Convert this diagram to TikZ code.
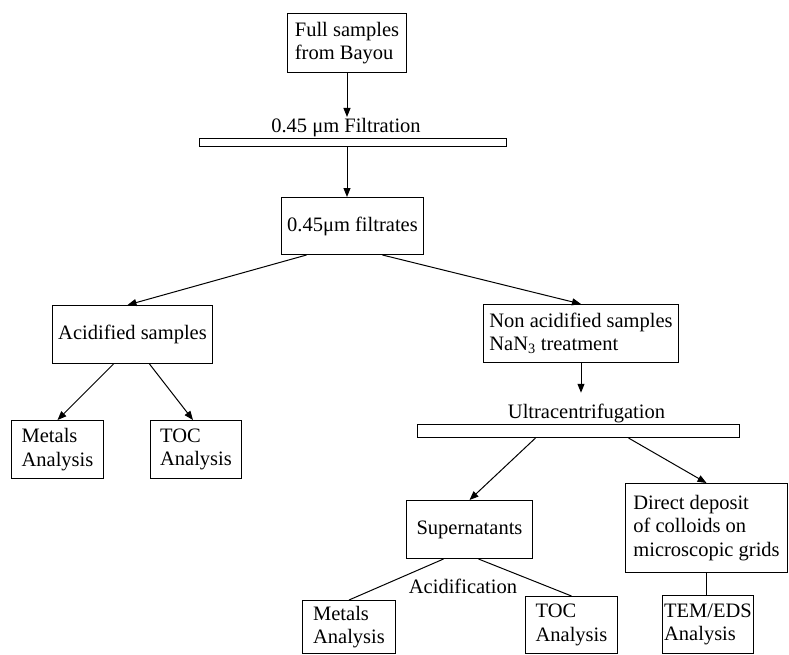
\documentclass[tikz,border=0pt]{standalone}
\usepackage{fontspec}
\setmainfont{Liberation Serif}
\usetikzlibrary{arrows.meta}

\begin{document}
\begin{tikzpicture}[x=1pt, y=-1pt,
    every node/.style={font=\fontsize{20.5}{23.5}\selectfont},
    box/.style={draw, line width=1pt, align=left, anchor=north west, inner sep=0pt},
    bar/.style={draw, line width=1pt, anchor=north west, inner sep=0pt},
    lbl/.style={inner sep=1pt, anchor=south},
    arr/.style={line width=1pt, -{Triangle[length=9pt, width=7pt]}},
    lin/.style={line width=1pt}]
  %tikz  Filtrazione e ultracentrifugazione
    \useasboundingbox (0,0) rectangle (789,654);
    \node[box, minimum width=119pt, minimum height=59pt] (full) at (287,13) {Full samples\\from Bayou};
    \node[bar, minimum width=307pt, minimum height=8pt] (filtbar) at (199,138) {};
    \node[lbl] (filtlbl) at ([xshift=-7pt]filtbar.north) {0.45 μm Filtration};
    \node[box, minimum width=142pt, minimum height=57pt] (filtrate) at (281,197) {0.45μm filtrates};
    \node[box, minimum width=160pt, minimum height=58pt] (acid) at (52,305) {Acidified samples};
    \node[box, minimum width=92pt, minimum height=58pt] (metalsA) at (11,420) {Metals\\Analysis};
    \node[box, minimum width=91pt, minimum height=58pt] (tocA) at (150,420) {TOC\\Analysis};
    \node[box, minimum width=195pt, minimum height=58pt] (nonacid) at (483,304) {Non acidified samples\\NaN\textsubscript{3} treatment};
    \node[bar, minimum width=322pt, minimum height=13pt] (ultrabar) at (417,424) {};
    \node[lbl] (ultralbl) at ([xshift=8pt]ultrabar.north) {Ultracentrifugation};
    \node[box, minimum width=126pt, minimum height=58pt] (super) at (406,500) {Supernatants};
    \node[box, minimum width=162pt, minimum height=89pt] (direct) at (625,483) {Direct deposit\\of colloids on\\microscopic grids};
    \node[box, minimum width=93pt, minimum height=53pt] (metalsB) at (302,600) {Metals\\Analysis};
    \node[box, minimum width=92pt, minimum height=57pt] (tocB) at (525,596) {TOC\\Analysis};
    \node[box, minimum width=91pt, minimum height=58pt] (tem) at (662,595) {TEM/EDS\\Analysis};
    \node (acidif) at (463,586) {Acidification};

    \draw[arr] (full.south) -- (full.south |- filtlbl.north);
    \draw[arr] (filtbar.south -| full.south) -- (full.south |- filtrate.north);
    \draw[arr] ([xshift=-46pt]filtrate.south) -- ([xshift=-5pt]acid.north);
    \draw[arr] ([xshift=30pt]filtrate.south) -- (nonacid.north);
    \draw[arr] ([xshift=-19pt]acid.south) -- (metalsA.north);
    \draw[arr] ([xshift=17pt]acid.south) -- ([xshift=-3pt]tocA.north);
    \draw[arr, shorten >=10pt] (nonacid.south) -- (nonacid.south |- ultralbl.north);
    \draw[arr] ([xshift=-43pt]ultrabar.south) -- (super.north);
    \draw[arr] ([xshift=50pt]ultrabar.south) -- (direct.north);
    \draw[lin] ([xshift=-26pt]super.south) -- (metalsB.north);
    \draw[lin] ([xshift=9pt]super.south) -- (tocB.north);
    \draw[lin] (direct.south) -- (direct.south |- tem.north);
  \end{tikzpicture}
\end{document}
